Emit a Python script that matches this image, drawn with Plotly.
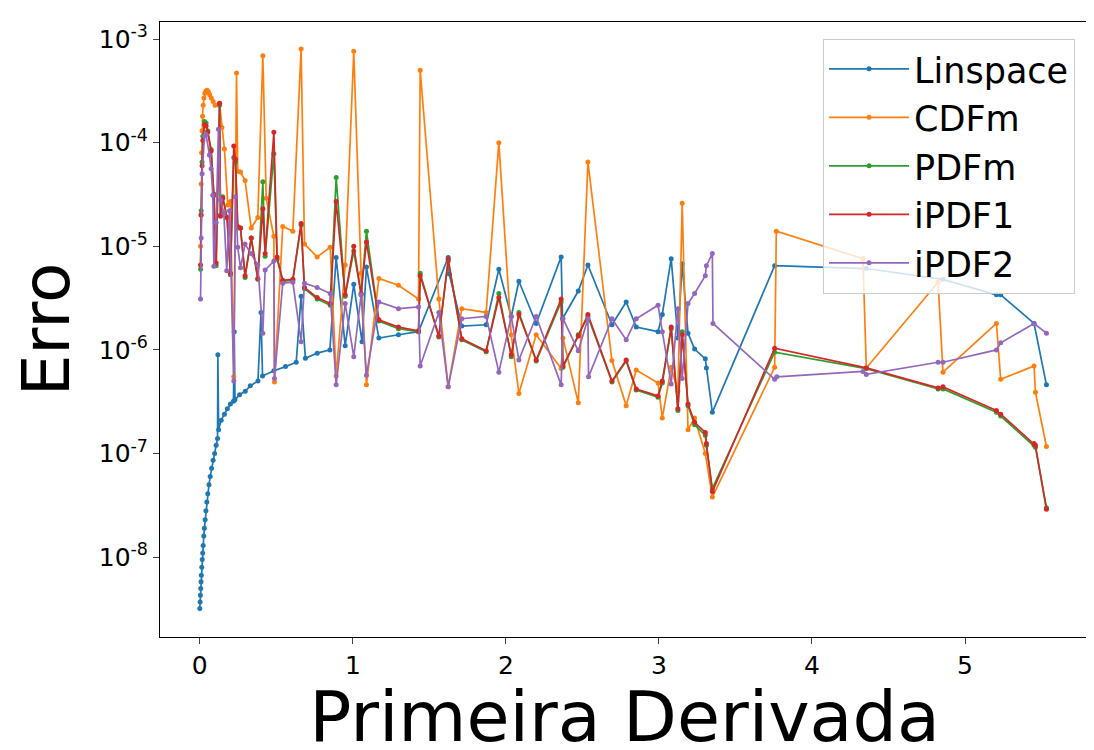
import plotly.graph_objects as go

# Linspace
lin_x = [0.000, 0.002, 0.004, 0.006, 0.008, 0.010, 0.013, 0.016, 0.019, 0.022, 0.026, 0.030,
         0.035, 0.040, 0.046, 0.052, 0.060, 0.068, 0.077, 0.087, 0.097, 0.107, 0.116, 0.118,
         0.123, 0.140, 0.161, 0.180, 0.200, 0.220, 0.225, 0.230, 0.260, 0.297, 0.330, 0.380,
         0.400, 0.410, 0.484, 0.560, 0.630, 0.662, 0.690, 0.767, 0.850, 0.891, 0.950, 1.006,
         1.060, 1.089, 1.170, 1.298, 1.429, 1.623, 1.630, 1.712, 1.871, 1.954, 2.035, 2.085,
         2.198, 2.361, 2.370, 2.473, 2.536, 2.693, 2.786, 2.852, 2.994, 3.022, 3.080, 3.124,
         3.152, 3.190, 3.233, 3.303, 3.310, 3.349, 3.756, 4.355, 4.856, 5.205, 5.233, 5.451, 5.532]
lin_y = [3.2e-9, 3.7e-9, 4.3e-9, 5.0e-9, 5.8e-9, 6.7e-9, 8.0e-9, 9.5e-9, 1.1e-8, 1.3e-8, 1.6e-8, 1.9e-8,
         2.3e-8, 2.8e-8, 3.4e-8, 4.1e-8, 5.0e-8, 6.0e-8, 7.2e-8, 8.6e-8, 1.0e-7, 1.2e-7, 1.4e-7, 9.0e-7,
         1.7e-7, 2.1e-7, 2.4e-7, 2.7e-7, 3.0e-7, 3.2e-7, 1.5e-6, 3.3e-7, 3.7e-7, 4.0e-7, 4.5e-7, 5.0e-7,
         2.3e-6, 5.6e-7, 6.3e-7, 6.9e-7, 7.6e-7, 3.3e-6, 8.3e-7, 9.3e-7, 1.0e-6, 7.8e-6, 1.1e-6, 4.3e-6,
         1.2e-6, 6.3e-6, 1.3e-6, 1.4e-6, 1.5e-6, 7.8e-6, 5.4e-6, 1.7e-6, 1.75e-6, 6.0e-6, 2.1e-6, 4.6e-6,
         1.8e-6, 7.9e-6, 2.0e-6, 3.7e-6, 6.6e-6, 1.75e-6, 2.9e-6, 1.66e-6, 1.5e-6, 2.2e-6, 7.6e-6, 1.3e-6,
         6.8e-6, 1.45e-6, 1.02e-6, 8.2e-7, 6.7e-7, 2.5e-7, 6.5e-6, 6.1e-6, 4.8e-6, 3.4e-6, 3.4e-6, 1.8e-6, 4.6e-7]

# CDFm
cdf_x = [0.005, 0.007, 0.009, 0.012, 0.015, 0.018, 0.022, 0.027, 0.033, 0.040, 0.048, 0.056,
         0.065, 0.075, 0.087, 0.100, 0.129, 0.144, 0.161, 0.183, 0.200, 0.222, 0.240, 0.248,
         0.266, 0.296, 0.336, 0.379, 0.412, 0.434, 0.484, 0.488, 0.542, 0.608, 0.662, 0.684,
         0.767, 0.852, 0.891, 0.950, 1.006, 1.054, 1.089, 1.170, 1.298, 1.429, 1.440, 1.562,
         1.623, 1.712, 1.871, 1.954, 2.035, 2.085, 2.198, 2.361, 2.373, 2.473, 2.536, 2.693,
         2.786, 2.852, 2.994, 3.022, 3.080, 3.124, 3.152, 3.190, 3.233, 3.303, 3.349, 3.756,
         3.767, 4.333, 4.355, 4.824, 4.856, 5.205, 5.233, 5.451, 5.460, 5.532]
cdf_y = [1.0e-5, 2.0e-5, 4.0e-5, 8.0e-5, 1.3e-4, 1.8e-4, 2.3e-4, 2.7e-4, 3.0e-4, 3.15e-4, 3.2e-4, 3.1e-4,
         2.9e-4, 2.7e-4, 2.5e-4, 2.3e-4, 2.4e-4, 1.4e-4, 8.7e-5, 2.5e-5, 2.7e-5, 5.5e-7, 4.7e-4, 5.3e-5,
         5.2e-5, 4.3e-5, 1.5e-5, 1.9e-5, 6.9e-4, 2.9e-5, 1.25e-5, 4.9e-7, 1.55e-5, 1.4e-5, 8.0e-4, 1.05e-5,
         7.9e-6, 9.8e-6, 5.6e-7, 6.6e-6, 7.6e-4, 5.5e-6, 4.6e-7, 4.9e-6, 4.2e-6, 3.1e-6, 5.0e-4, 3.1e-6,
         4.4e-7, 2.5e-6, 2.3e-6, 1.0e-4, 1.4e-6, 3.8e-7, 1.4e-6, 6.6e-7, 1.3e-6, 3.1e-7, 6.5e-5, 7.9e-7,
         2.9e-7, 6.4e-7, 4.8e-7, 2.2e-7, 6.8e-7, 4.0e-7, 2.6e-5, 1.7e-7, 2.2e-7, 1.0e-7, 3.8e-8, 6.8e-7,
         1.4e-5, 7.6e-6, 6.7e-7, 4.5e-6, 6.1e-7, 1.8e-6, 5.2e-7, 7.0e-7, 3.9e-7, 1.17e-7]

# iPDF1 (PDFm uses the same x)
pdf_x = [0.005, 0.009, 0.015, 0.020, 0.031, 0.041, 0.052, 0.074, 0.092, 0.107, 0.129, 0.135,
         0.150, 0.178, 0.200, 0.222, 0.233, 0.248, 0.266, 0.296, 0.336, 0.379, 0.412, 0.427,
         0.484, 0.505, 0.542, 0.608, 0.662, 0.684, 0.767, 0.852, 0.891, 0.950, 1.006, 1.054,
         1.089, 1.170, 1.298, 1.429, 1.440, 1.562, 1.623, 1.712, 1.871, 1.954, 2.035, 2.085,
         2.198, 2.361, 2.373, 2.473, 2.536, 2.693, 2.786, 2.852, 2.994, 3.022, 3.080, 3.124,
         3.152, 3.190, 3.233, 3.303, 3.310, 3.349, 3.756, 4.355, 4.824, 4.856, 5.205, 5.233,
         5.451, 5.460, 5.532]
ipdf1_y = [6.6e-6, 2.0e-5, 6.0e-5, 1.05e-4, 1.5e-4, 1.45e-4, 1.26e-4, 8.3e-5, 3.1e-5, 6.9e-6, 2.4e-4, 1.95e-5,
           2.9e-5, 1.9e-5, 5.5e-6, 9.3e-5, 6.9e-5, 1.55e-5, 1.5e-5, 5.2e-6, 1.2e-5, 4.9e-6, 2.3e-5, 8.5e-6,
           1.26e-4, 7.9e-6, 4.7e-6, 4.8e-6, 1.66e-5, 4.0e-6, 3.2e-6, 2.8e-6, 2.7e-5, 3.4e-6, 1.0e-5, 3.5e-6,
           1.1e-5, 1.95e-6, 1.66e-6, 1.53e-6, 5.2e-6, 1.36e-6, 7.5e-6, 1.28e-6, 9.8e-7, 3.2e-6, 9.0e-7, 2.2e-6,
           8.0e-7, 3.1e-6, 7.0e-7, 1.36e-6, 2.2e-6, 5.0e-7, 8.0e-7, 4.2e-7, 3.6e-7, 5.0e-7, 1.66e-6, 2.7e-7,
           1.4e-6, 3.0e-7, 2.0e-7, 1.6e-7, 1.25e-7, 4.3e-8, 1.04e-6, 6.7e-7, 4.3e-7, 4.4e-7, 2.6e-7, 2.4e-7,
           1.25e-7, 1.2e-7, 2.9e-8]
pdfm_y = [6.0e-6, 2.2e-5, 6.5e-5, 1.15e-4, 1.6e-4, 1.55e-4, 1.3e-4, 8.6e-5, 3.2e-5, 6.5e-6, 2.3e-4, 2.0e-5,
          3.0e-5, 1.9e-5, 5.3e-6, 7.2e-5, 6.5e-5, 1.5e-5, 1.5e-5, 5.0e-6, 1.2e-5, 4.8e-6, 4.2e-5, 8.0e-6,
          7.8e-5, 7.5e-6, 4.6e-6, 4.7e-6, 1.6e-5, 3.9e-6, 3.1e-6, 2.7e-6, 4.6e-5, 3.3e-6, 9.0e-6, 3.4e-6,
          1.4e-5, 1.9e-6, 1.6e-6, 1.5e-6, 5.5e-6, 1.33e-6, 7.2e-6, 1.25e-6, 9.6e-7, 3.5e-6, 8.6e-7, 2.3e-6,
          7.8e-7, 2.9e-6, 6.8e-7, 1.4e-6, 2.1e-6, 4.9e-7, 7.8e-7, 4.1e-7, 3.5e-7, 4.8e-7, 1.6e-6, 2.6e-7,
          1.5e-6, 2.9e-7, 1.9e-7, 1.5e-7, 1.2e-7, 4.6e-8, 9.5e-7, 6.6e-7, 4.2e-7, 4.2e-7, 2.5e-7, 2.3e-7,
          1.2e-7, 1.15e-7, 3.0e-8]

# iPDF2
ipdf2_x = [0.005, 0.009, 0.015, 0.031, 0.041, 0.063, 0.074, 0.085, 0.092, 0.107, 0.122, 0.135,
           0.157, 0.176, 0.194, 0.222, 0.233, 0.248, 0.266, 0.296, 0.336, 0.379, 0.412, 0.427,
           0.484, 0.488, 0.542, 0.608, 0.662, 0.684, 0.767, 0.852, 0.891, 0.950, 1.006, 1.054,
           1.089, 1.170, 1.298, 1.429, 1.440, 1.562, 1.623, 1.712, 1.871, 1.954, 2.035, 2.085,
           2.198, 2.361, 2.373, 2.473, 2.536, 2.540, 2.693, 2.786, 2.852, 2.994, 3.022, 3.080,
           3.124, 3.152, 3.190, 3.233, 3.303, 3.310, 3.349, 3.353, 3.756, 3.770, 4.333, 4.355,
           4.824, 4.856, 5.205, 5.233, 5.451, 5.532]
ipdf2_y = [3.1e-6, 1.2e-5, 5.0e-5, 1.16e-4, 1.2e-4, 7.6e-5, 5.6e-5, 3.1e-5, 6.4e-6, 1.7e-5, 1.35e-4, 2.8e-5,
           2.1e-5, 5.8e-6, 2.2e-5, 5.0e-7, 3.0e-5, 9.8e-6, 6.2e-6, 1.05e-5, 8.5e-6, 6.6e-6, 1.45e-6, 5.9e-6,
           7.2e-6, 5.3e-7, 4.4e-6, 4.5e-6, 1.2e-6, 4.4e-6, 4.0e-6, 3.5e-6, 4.6e-7, 2.8e-6, 8.6e-7, 3.4e-6,
           5.7e-7, 2.9e-6, 2.5e-6, 2.6e-6, 7.0e-7, 2.3e-6, 4.4e-7, 2.0e-6, 2.1e-6, 6.1e-7, 2.1e-6, 8.0e-7,
           2.1e-6, 4.6e-7, 2.0e-6, 9.8e-7, 2.0e-6, 5.5e-7, 2.0e-6, 1.25e-6, 2.0e-6, 2.7e-6, 1.5e-6, 4.7e-7,
           2.5e-6, 5.3e-7, 2.8e-6, 3.5e-6, 5.2e-6, 6.5e-6, 8.5e-6, 1.8e-6, 5.2e-7, 5.5e-7, 6.2e-7, 5.8e-7,
           7.6e-7, 7.6e-7, 1.0e-6, 1.17e-6, 1.8e-6, 1.45e-6]

series = [
    ("Linspace", lin_x, lin_y, "#1f77b4"),
    ("CDFm", cdf_x, cdf_y, "#ff7f0e"),
    ("PDFm", pdf_x, pdfm_y, "#2ca02c"),
    ("iPDF1", pdf_x, ipdf1_y, "#d62728"),
    ("iPDF2", ipdf2_x, ipdf2_y, "#9467bd"),
]

fig = go.Figure()
for name, xs, ys, color in series:
    fig.add_trace(go.Scatter(
        x=xs, y=ys, name=name, mode="lines+markers",
        line=dict(color=color, width=1.7),
        marker=dict(color=color, size=5),
    ))

exps = [-8, -7, -6, -5, -4, -3]
fig.update_layout(
    width=1094, height=750,
    template="none",
    paper_bgcolor="white", plot_bgcolor="white",
    font=dict(family="DejaVu Sans", color="black"),
    margin=dict(l=152, r=13, t=14, b=121, autoexpand=False),
    showlegend=True,
    legend=dict(
        x=0.985, y=0.973, xanchor="right", yanchor="top",
        font=dict(size=35), bgcolor="rgba(255,255,255,0.8)",
        bordercolor="#cccccc", borderwidth=1, itemwidth=80,
        tracegroupgap=6,
    ),
    xaxis=dict(
        range=[-0.26, 5.81], tickvals=[0, 1, 2, 3, 4, 5],
        ticks="outside", ticklen=6, tickfont=dict(size=25),
        showline=True, linecolor="black", mirror=True, showgrid=False, zeroline=False,
        automargin=False,
        title=dict(text="Primeira Derivada", font=dict(size=70), standoff=4),
    ),
    yaxis=dict(
        type="log", range=[-8.77, -2.836],
        tickvals=[10.0 ** e for e in exps],
        ticktext=[f"10<sup>{e}</sup>" for e in exps],
        ticks="outside", ticklen=6, tickfont=dict(size=25),
        showline=True, linecolor="black", mirror=True, showgrid=False, zeroline=False,
        automargin=False,
        title=dict(text="Erro", font=dict(size=66), standoff=8),
    ),
)

fig.write_html("out.html")
